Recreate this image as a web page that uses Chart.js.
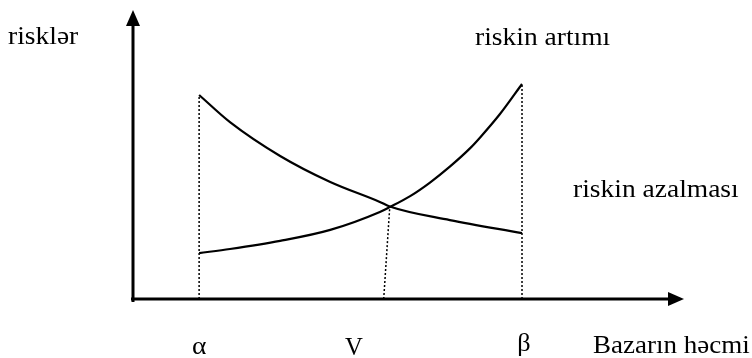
<!DOCTYPE html>
<html>
<head>
<meta charset="utf-8">
<script src="https://cdn.jsdelivr.net/npm/chart.js@4.4.1/dist/chart.umd.min.js"></script>
<style>
  html, body { margin: 0; padding: 0; background: #fff; }
  #wrap { width: 752px; height: 358px; }
</style>
</head>
<body>
<div id="wrap"><canvas id="riskChart"></canvas></div>
<script>
// market volume points (x) and risk level (y)
const alphaX = 1.2;
const betaX = 7.06;
const vBottomX = 4.55;
const crossX = 4.66;
const crossY = 3.19;

const fallX = [1.20, 1.76, 2.67, 3.58, 4.48, 4.66, 5.75, 7.06];
const fallY = [7.06, 6.12, 4.95, 4.05, 3.36, 3.20, 2.73, 2.28];

const riseX = [1.20, 1.76, 2.67, 3.58, 4.48, 4.66, 5.03, 5.39, 5.75, 6.12, 6.30, 6.66, 7.06];
const riseY = [1.59, 1.73, 2.01, 2.39, 3.01, 3.18, 3.56, 4.03, 4.58, 5.22, 5.59, 6.40, 7.44];

const tickLabels = ['α', 'V', 'β'];
const axisTitles = ['risklər', 'Bazarın həcmi'];
const curveNames = ['riskin artımı', 'riskin azalması'];

const toPts = (xs, ys) => xs.map((x, i) => ({ x: x, y: ys[i] }));

// draws axes with arrow heads and all the text
const schemePlugin = {
  id: 'scheme',
  afterDraw(chart) {
    const ctx = chart.ctx;
    const xs = chart.scales.x, ys = chart.scales.y;
    const ox = xs.getPixelForValue(0), oy = ys.getPixelForValue(0);
    const right = chart.chartArea.right, top = chart.chartArea.top;
    ctx.save();
    ctx.strokeStyle = '#000';
    ctx.fillStyle = '#000';
    ctx.lineWidth = 3;
    ctx.beginPath();
    ctx.moveTo(ox, oy + 3);
    ctx.lineTo(ox, top + 12);
    ctx.moveTo(ox - 2, oy);
    ctx.lineTo(right - 12, oy);
    ctx.stroke();
    // arrow heads
    ctx.beginPath();
    ctx.moveTo(ox, top);
    ctx.lineTo(ox - 7, top + 16);
    ctx.lineTo(ox + 7, top + 16);
    ctx.closePath();
    ctx.fill();
    ctx.beginPath();
    ctx.moveTo(right, oy);
    ctx.lineTo(right - 16, oy - 7);
    ctx.lineTo(right - 16, oy + 7);
    ctx.closePath();
    ctx.fill();

    const txt = (s, x, y, size, sx, align) => {
      ctx.save();
      ctx.font = size + 'px "Liberation Serif", "Times New Roman", serif';
      ctx.textBaseline = 'alphabetic';
      ctx.translate(x, y);
      ctx.scale(sx, 1);
      ctx.textAlign = align || 'left';
      ctx.fillText(s, 0, 0);
      ctx.restore();
    };
    txt(axisTitles[0], 8, 44, 25, 1.1);
    txt(curveNames[0], 475, 45, 25, 1.1);
    txt(curveNames[1], 573, 197, 25, 1.1);
    txt(axisTitles[1], 593, 353, 25, 1.08);
    txt(tickLabels[0], xs.getPixelForValue(alphaX), 354, 25, 1.1, 'center');
    txt(tickLabels[1], 354, 355, 26, 0.95, 'center');
    txt(tickLabels[2], xs.getPixelForValue(betaX) + 2, 351, 25, 1.05, 'center');
    ctx.restore();
  }
};

const dotted = (pts) => ({
  data: pts,
  borderColor: '#000',
  borderWidth: 1.5,
  borderDash: [2, 2],
  pointRadius: 0,
  tension: 0
});

new Chart(document.getElementById('riskChart'), {
  type: 'line',
  data: {
    datasets: [
      {
        data: toPts(fallX, fallY),
        borderColor: '#000',
        borderWidth: 2.2,
        pointRadius: 0,
        cubicInterpolationMode: 'monotone'
      },
      {
        data: toPts(riseX, riseY),
        borderColor: '#000',
        borderWidth: 2.2,
        pointRadius: 0,
        cubicInterpolationMode: 'monotone'
      },
      dotted([{ x: alphaX, y: 0 }, { x: alphaX, y: fallY[0] }]),
      dotted([{ x: betaX, y: 0 }, { x: betaX, y: riseY[riseY.length - 1] }]),
      dotted([{ x: vBottomX, y: 0 }, { x: crossX, y: crossY }])
    ]
  },
  options: {
    responsive: true,
    maintainAspectRatio: false,
    animation: false,
    layout: { padding: { left: 133, right: 68, top: 10, bottom: 59 } },
    scales: {
      x: { type: 'linear', min: 0, max: 10, display: false },
      y: { type: 'linear', min: 0, max: 10, display: false }
    },
    plugins: {
      legend: { display: false },
      tooltip: { enabled: false }
    }
  },
  plugins: [schemePlugin]
});
</script>
</body>
</html>
